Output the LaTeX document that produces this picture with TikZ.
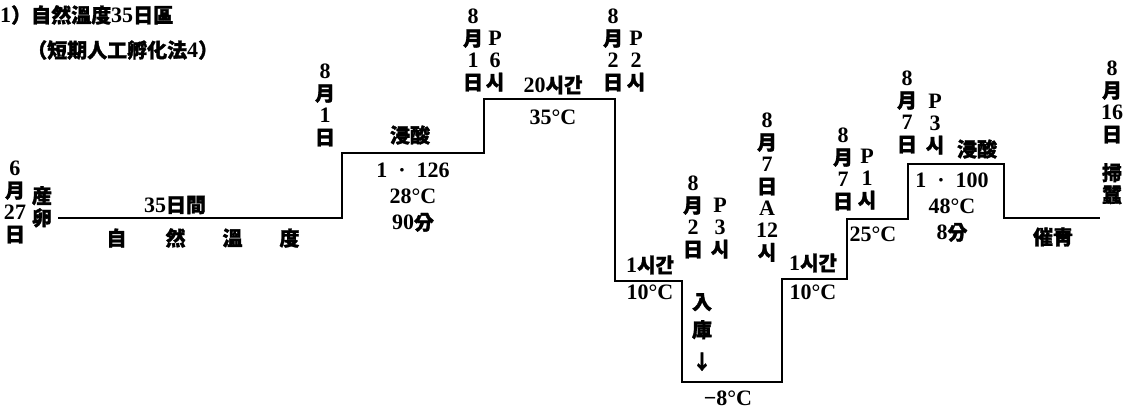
\documentclass[tikz,border=0pt]{standalone}
\usepackage{fontspec}
\setmainfont{Liberation Serif}[Scale=1.1]
\newfontfamily\cjk[FakeBold=1.5]{Noto Sans CJK KR}
\newcommand\cj[1]{{\cjk #1}}
\newcommand\labfont{\fontsize{20}{22}\selectfont\bfseries}

\begin{document}
\begin{tikzpicture}[
  x=1pt, y=-1pt,
  lab/.style={inner sep=0pt, font=\labfont},
  stack/.style={lab, align=center, anchor=north},
  curve/.style={line width=2.8pt, line join=miter}
]
\useasboundingbox (0,0) rectangle (1137,410);

\node[lab, anchor=west] (ttl) at (0,15) {1\cj{）自然溫度}35\cj{日區}};
\node[lab, anchor=west] (sub) at (27,50) {\cj{（短期人工孵化法}4\cj{）}};

\draw[curve] (58,218) -- (342,218) -- (342,153) -- (484,153) -- (484,99)
  -- (615,99) -- (615,281) -- (682,281) -- (682,382) -- (782,382)
  -- (782,279) -- (847,279) -- (847,219) -- (908,219) -- (908,164)
  -- (1004,164) -- (1004,218) -- (1100,218);

\node[stack] (jun27) at (15,161) {6\\\cj{月}\\27\\\cj{日}};
\node[stack] (lay) at (42,186) {\cj{産}\\\cj{卵}};
\node[lab] (days) at (175,205) {35\cj{日間}};
\node[lab] (nat) at (203,238) {\cj{自}\hspace{39pt}\cj{然}\hspace{37pt}\cj{溫}\hspace{37pt}\cj{度}};

\node[stack] (aug1) at (325,64) {8\\\cj{月}\\1\\\cj{日}};
\node[lab] (acid1) at (410,135) {\cj{浸酸}};
\node[lab, align=center, anchor=north] (cond1) at (413,163)
  {1\enspace·\enspace126\\[4pt]28\textdegree C\\[4pt]90\cj{分}};

\node[stack] (aug1p) at (473,9) {8\\\cj{月}\\1\\\cj{日}};
\node[stack] (p6) at (495,31) {P\\6\\\cj{시}};
\node[lab] (h20) at (553,85) {20\cj{시간}};
\node[lab] (t35) at (553,117) {35\textdegree C};

\node[stack] (aug2) at (613,9) {8\\\cj{月}\\2\\\cj{日}};
\node[stack] (p2) at (636,31) {P\\2\\\cj{시}};
\node[lab] (h1a) at (650,265) {1\cj{시간}};
\node[lab] (t10a) at (650,292) {10\textdegree C};

\node[stack] (aug2p) at (693,176) {8\\\cj{月}\\2\\\cj{日}};
\node[stack] (p3a) at (720,198) {P\\3\\\cj{시}};
\node[stack] (store) at (702,293) {\cj{入}\\[6pt]\cj{庫}\\[10pt]\cj{↓}};
\node[lab] (tm8) at (728,398) {−8\textdegree C};

\node[stack] (aug7a) at (767,113) {8\\\cj{月}\\7\\\cj{日}\\A\\12\\\cj{시}};
\node[lab] (h1b) at (813,263) {1\cj{시간}};
\node[lab] (t10b) at (813,292) {10\textdegree C};

\node[stack] (aug7b) at (843,128) {8\\\cj{月}\\7\\\cj{日}};
\node[stack] (p1) at (867,149) {P\\1\\\cj{시}};
\node[lab] (t25) at (873,234) {25\textdegree C};

\node[stack] (aug7c) at (907,71) {8\\\cj{月}\\7\\\cj{日}};
\node[stack] (p3b) at (935,94) {P\\3\\\cj{시}};
\node[lab] (acid2) at (977,149) {\cj{浸酸}};
\node[lab, align=center, anchor=north] (cond2) at (952,173)
  {1\enspace·\enspace100\\[4pt]48\textdegree C\\[4pt]8\cj{分}};

\node[lab] (force) at (1053,237) {\cj{催靑}};
\node[stack] (aug16) at (1112,61) {8\\\cj{月}\\16\\\cj{日}};
\node[stack] (brush) at (1112,163) {\cj{掃}\\\cj{蠶}};

\end{tikzpicture}
\end{document}
